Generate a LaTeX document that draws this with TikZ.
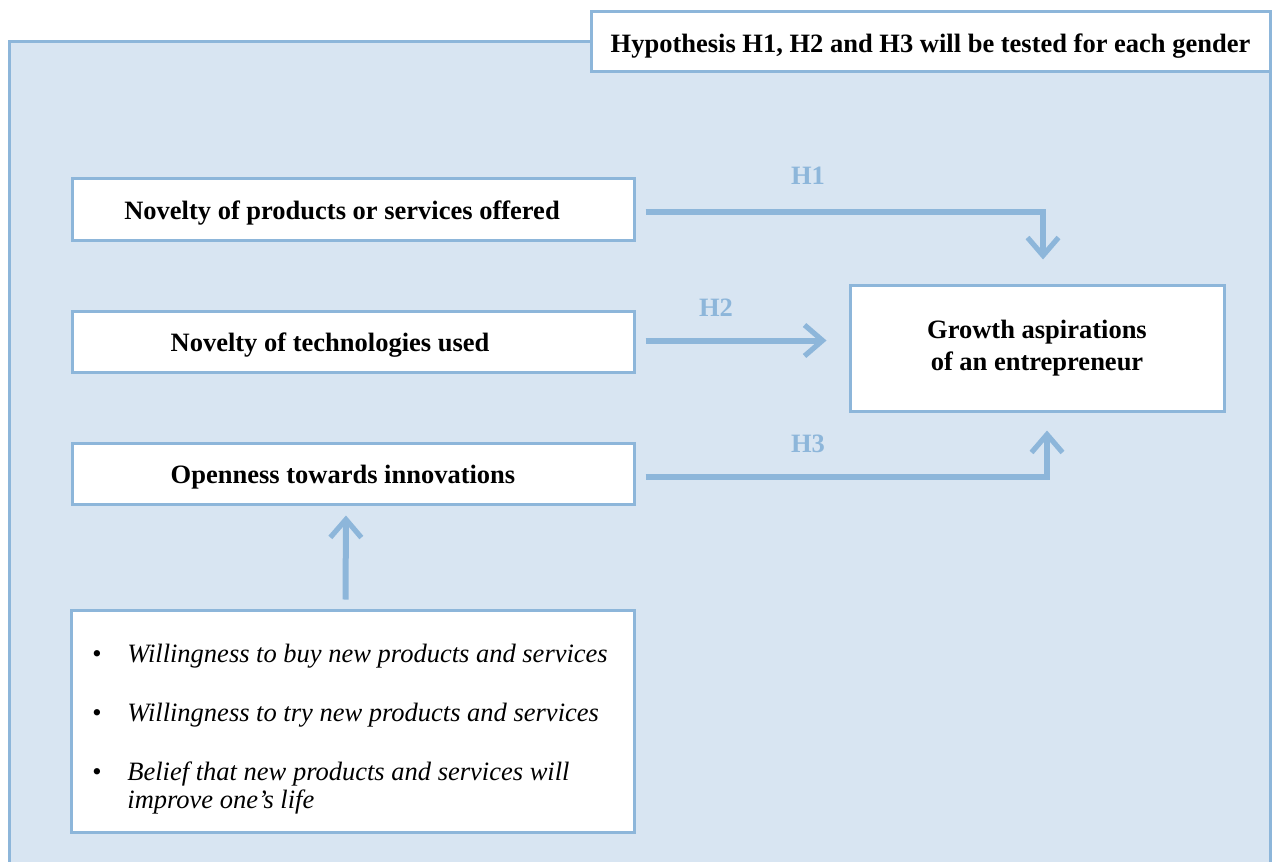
\documentclass[tikz,border=0pt]{standalone}
\usepackage{fontspec}
\setmainfont{Liberation Serif}
\usetikzlibrary{arrows.meta}
\definecolor{edge}{RGB}{141,182,218}
\definecolor{panel}{RGB}{216,229,242}
\begin{document}
\begin{tikzpicture}[x=0.5pt,y=-0.5pt,
  box/.style={draw=edge,fill=white,line width=1.5pt,inner sep=0pt,align=center,
    font=\fontsize{13.25}{16}\selectfont\bfseries},
  oneline/.style={box,text height=12pt,text depth=2pt},
  flow/.style={draw=edge,line width=3pt,-{Straight Barb[length=9pt,width=15.5pt,line width=2.6pt]}},
  hlabel/.style={text=edge,inner sep=0pt,font=\fontsize{13.25}{16}\selectfont\bfseries},
  item/.style={anchor=base west,inner sep=0pt,font=\fontsize{13.25}{16}\selectfont\itshape},
  dot/.style={anchor=base,inner sep=0pt,font=\fontsize{13.25}{16}\selectfont}]
\useasboundingbox (0,0) rectangle (1272,861);
\clip (0,0) rectangle (1272,861);
\fill[white] (0,0) rectangle (1272,861);
% shaded panel holding the model
\draw[edge,fill=panel,line width=1.5pt] (9.5,41.5) rectangle (1270.5,900);

% header note
\node[box,text height=13pt,text depth=2pt,minimum width=339.5pt,minimum height=30pt] (hyp) at (930.5,42)
  {Hypothesis H1, H2 and H3 will be tested for each gender};

% predictors
\node[oneline,minimum width=281pt,minimum height=30.5pt] (n1) at (353,209.5)
  {Novelty of products or services offered\hspace*{11pt}};
\node[oneline,minimum width=281pt,minimum height=30.5pt] (n2) at (353,341.5)
  {Novelty of technologies used\hspace*{23pt}};
\node[oneline,minimum width=281pt,minimum height=30.5pt] (n3) at (353,473.5)
  {Openness towards innovations\hspace*{10pt}};

% outcome
\node[box,minimum width=187pt,minimum height=63pt] (growth) at (1037,348)
  {Growth aspirations\\of an entrepreneur};

% indicators of openness
\node[box,minimum width=281.5pt,minimum height=111pt] (bul) at (352.5,721) {};
\node[dot] (d1) at (97,662) {•};
\node[item] (b1) at (127,662) {Willingness to buy new products and services};
\node[dot] (d2) at (97,721) {•};
\node[item] (b2) at (127,721) {Willingness to try new products and services};
\node[dot] (d3) at (97,780) {•};
\node[item] (b3) at (127,780) {Belief that new products and services will};
\node[item] (b4) at (127,808) {improve one’s life};

% hypotheses
\draw[flow,shorten <=5pt,shorten >=12pt] ([yshift=-1.25pt]n1.east) -| ([xshift=3pt]growth.north);
\draw[flow,shorten <=5pt,shorten >=11pt] ([yshift=0.5pt]n2.east) -- ([yshift=0.5pt]growth.west |- n2.east);
\draw[flow,shorten <=5pt,shorten >=9pt] ([yshift=-1.75pt]n3.east) -| ([xshift=5pt]growth.south);
\draw[flow,shorten <=4.5pt,shorten >=5pt] ([xshift=-3.5pt]bul.north) -- ([xshift=-3.5pt]n3.south);

\node[hlabel] (h1) at (808,176) {H1};
\node[hlabel] (h2) at (716,308) {H2};
\node[hlabel] (h3) at (808,444) {H3};
\end{tikzpicture}
\end{document}
